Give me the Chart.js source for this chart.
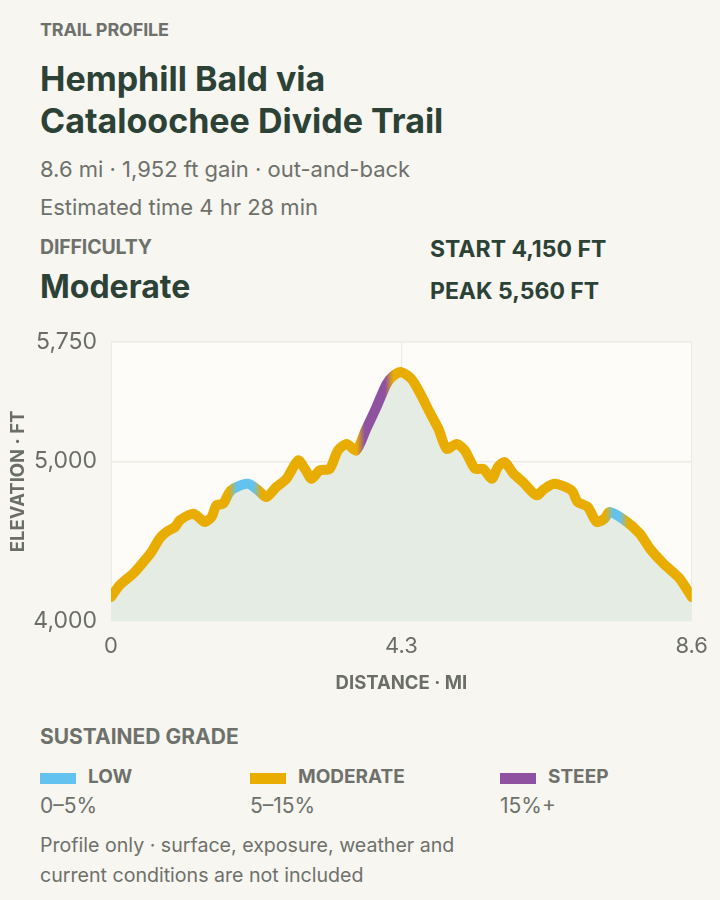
<!DOCTYPE html>
<html>
<head>
<meta charset="utf-8">
<script src="https://cdn.jsdelivr.net/npm/chart.js@4"></script>
<style>
  html,body{margin:0;padding:0;background:#f7f6f1;}
  body{width:720px;height:900px;position:relative;overflow:hidden;font-family:Inter,"Noto Sans",sans-serif;}
  .t{position:absolute;left:40px;white-space:nowrap;}
  .eyebrow{font-size:18px;font-weight:700;color:#6e716b;line-height:20px;letter-spacing:-0.15px;}
  .title{font-size:34px;font-weight:700;color:#2d4236;line-height:42px;}
  .sub{font-size:22px;font-weight:400;color:#6e716b;line-height:38px;}
  .big{font-size:32px;font-weight:700;color:#2d4236;line-height:40px;}
  .stat{font-size:23px;font-weight:700;color:#2d4236;line-height:24px;}
  .sw{position:absolute;width:36px;height:11px;top:773px;}
  .lg{position:absolute;font-size:19px;font-weight:700;color:#6e716b;line-height:20px;top:767px;}
  .rg{position:absolute;font-size:21px;font-weight:400;color:#6e716b;line-height:24px;top:794px;}
  .foot{font-size:19.6px;font-weight:400;color:#6e716b;line-height:30px;}
  #wrap{position:absolute;left:0;top:314px;width:720px;height:386px;}
</style>
</head>
<body>
<div class="t eyebrow" style="top:20px">TRAIL PROFILE</div>
<div class="t title" style="top:57.5px">Hemphill Bald via<br>Cataloochee Divide Trail</div>
<div class="t sub" style="top:149.5px">8.6 mi · 1,952 ft gain · out-and-back<br>Estimated time 4 hr 28 min</div>
<div class="t eyebrow" style="top:237px;font-size:19.5px">DIFFICULTY</div>
<div class="t big" style="top:267px">Moderate</div>
<div class="t stat" style="left:430px;top:237px">START 4,150 FT</div>
<div class="t stat" style="left:430px;top:279px">PEAK 5,560 FT</div>

<div id="wrap"><canvas id="c"></canvas></div>

<div class="t eyebrow" style="top:725px;font-size:21px;line-height:24px;letter-spacing:0">SUSTAINED GRADE</div>
<div class="sw" style="left:40px;background:#63c3ee"></div>
<div class="lg" style="left:88px">LOW</div>
<div class="rg" style="left:40px">0–5%</div>
<div class="sw" style="left:250px;background:#e8ad00"></div>
<div class="lg" style="left:298px">MODERATE</div>
<div class="rg" style="left:250px">5–15%</div>
<div class="sw" style="left:500px;background:#8e52a1"></div>
<div class="lg" style="left:548px">STEEP</div>
<div class="rg" style="left:500px">15%+</div>
<div class="t foot" style="top:830px">Profile only · surface, exposure, weather and<br>current conditions are not included</div>

<script>
// ---- data ----
const distanceMi = [0, 0.13, 0.33, 0.48, 0.60, 0.72, 0.82, 0.95, 1.02, 1.22, 1.32, 1.39, 1.49, 1.56, 1.66, 1.74, 1.81, 2.03, 2.18, 2.30, 2.45, 2.60, 2.77, 2.87, 2.97, 3.09, 3.24, 3.36, 3.49, 3.63, 3.78, 3.93, 4.08, 4.18, 4.30, 4.45, 4.57, 4.72, 4.85, 4.97, 5.12, 5.24, 5.39, 5.51, 5.64, 5.73, 5.83, 5.96, 6.10, 6.30, 6.42, 6.57, 6.82, 6.91, 7.06, 7.19, 7.31, 7.38, 7.61, 7.83, 7.98, 8.18, 8.42, 8.60];
const elevationFt = [4150, 4225, 4298, 4370, 4433, 4517, 4558, 4590, 4631, 4673, 4642, 4621, 4652, 4725, 4735, 4798, 4829, 4860, 4819, 4777, 4840, 4892, 5006, 4954, 4892, 4944, 4954, 5069, 5110, 5069, 5204, 5340, 5485, 5537, 5560, 5517, 5433, 5308, 5204, 5079, 5110, 5069, 4954, 4954, 4892, 4965, 4996, 4923, 4871, 4788, 4829, 4860, 4819, 4746, 4715, 4621, 4642, 4683, 4631, 4548, 4454, 4360, 4267, 4150];
const lowGradeZones = [[1.80, 2.17], [7.38, 7.60]];
const steepGradeZones = [[3.70, 4.12]];
const xTicks = [0, 4.3, 8.6];
const yTicks = [4000, 5000, 5750];

const COL_LOW = '#63c3ee', COL_MOD = '#e8ad00', COL_STEEP = '#8e52a1';
const FONT = 'Inter, "Noto Sans", sans-serif';
const TXT = '#6b6e68';

function lineGradient(ctx) {
  const chart = ctx.chart;
  const area = chart.chartArea;
  if (!area) return COL_MOD;
  const xs = chart.scales.x;
  const x0 = xs.getPixelForValue(xs.min), x1 = xs.getPixelForValue(xs.max);
  const g = chart.ctx.createLinearGradient(x0, 0, x1, 0);
  const frac = v => Math.min(1, Math.max(0, (xs.getPixelForValue(v) - x0) / (x1 - x0)));
  const blend = 0.06;
  const zones = [];
  lowGradeZones.forEach(z => zones.push([z[0], z[1], COL_LOW]));
  steepGradeZones.forEach(z => zones.push([z[0], z[1], COL_STEEP]));
  zones.sort((a, b) => a[0] - b[0]);
  g.addColorStop(0, COL_MOD);
  zones.forEach(([a, b, c]) => {
    g.addColorStop(frac(a - blend), COL_MOD);
    g.addColorStop(frac(a + blend), c);
    g.addColorStop(frac(b - blend), c);
    g.addColorStop(frac(b + blend), COL_MOD);
  });
  g.addColorStop(1, COL_MOD);
  return g;
}

const plotBg = {
  id: 'plotBg',
  beforeDraw(chart) {
    const {ctx, chartArea: a} = chart;
    ctx.save();
    ctx.fillStyle = '#fdfcf9';
    ctx.fillRect(a.left, a.top, a.right - a.left, a.bottom - a.top);
    ctx.restore();
  }
};

new Chart(document.getElementById('c'), {
  type: 'line',
  data: {
    datasets: [{
      data: distanceMi.map((d, i) => ({x: d, y: elevationFt[i]})),
      borderColor: lineGradient,
      borderWidth: 10,
      borderCapStyle: 'round',
      borderJoinStyle: 'round',
      backgroundColor: '#e5ece3',
      fill: 'start',
      pointRadius: 0,
      tension: 0.25
    }]
  },
  options: {
    responsive: true,
    maintainAspectRatio: false,
    animation: false,
    layout: {padding: {top: 5, right: 28, left: 0, bottom: 0}},
    plugins: {legend: {display: false}, tooltip: {enabled: false}},
    scales: {
      x: {
        type: 'linear', min: 0, max: 8.6,
        afterBuildTicks: s => { s.ticks = xTicks.map(v => ({value: v})); },
        afterFit: s => { s.height = 79; },
        ticks: {color: TXT, font: {family: FONT, size: 22}, padding: 12, callback: v => String(v)},
        grid: {color: '#ecebe6', drawTicks: false, lineWidth: 1},
        border: {display: false},
        title: {display: true, text: 'DISTANCE · MI', color: TXT, font: {family: FONT, size: 18.5, weight: '700'}, padding: {top: 4, bottom: 5}}
      },
      y: {
        min: 4000, max: 5750,
        afterBuildTicks: s => { s.ticks = yTicks.map(v => ({value: v})); },
        afterFit: s => { s.width = 111; },
        ticks: {color: TXT, font: {family: FONT, size: 23}, padding: 14, callback: v => v.toLocaleString('en-US')},
        grid: {color: '#ecebe6', drawTicks: false, lineWidth: 1.5},
        border: {display: false},
        title: {display: true, text: 'ELEVATION · FT', color: TXT, font: {family: FONT, size: 18.5, weight: '700'}, padding: {top: 7, bottom: 0}}
      }
    }
  },
  plugins: [plotBg]
});
</script>
</body>
</html>
